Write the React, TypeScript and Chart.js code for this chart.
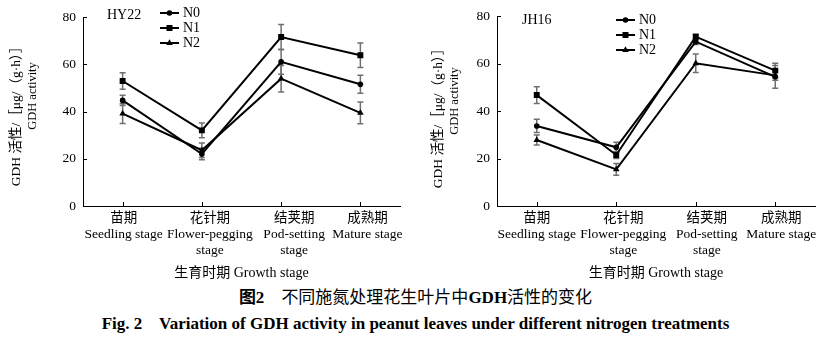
import React, { useEffect, useRef } from "react";
import { Chart, registerables } from "chart.js";

Chart.register(...registerables);

// ---- data ----
const categories: string[][] = [
  ["苗期", "Seedling stage"],
  ["花针期", "Flower-pegging", "stage"],
  ["结荚期", "Pod-setting", "stage"],
  ["成熟期", "Mature stage"],
];
const seriesNames = ["N0", "N1", "N2"];
const yTicks = [0, 20, 40, 60, 80];

const hy22N0 = [44.7, 22.0, 61.0, 51.5];
const hy22N1 = [52.9, 32.0, 71.5, 63.8];
const hy22N2 = [39.1, 23.6, 53.9, 39.4];
const hy22N0Err = [2.2, 2.4, 5.2, 3.8];
const hy22N1Err = [3.5, 3.1, 5.3, 5.2];
const hy22N2Err = [4.2, 3.1, 5.6, 4.6];

const jh16N0 = [33.7, 24.7, 69.2, 54.4];
const jh16N1 = [46.7, 21.5, 71.3, 57.0];
const jh16N2 = [27.8, 15.4, 60.1, 55.0];
const jh16N0Err = [2.8, 2.1, 1.2, 4.8];
const jh16N1Err = [3.5, 1.5, 1.0, 3.1];
const jh16N2Err = [2.1, 2.5, 3.9, 2.0];

const yTitle1 = "GDH 活性/［μg/（g·h）］";
const yTitle2 = "GDH activity";
const xTitle = "生育时期 Growth stage";

const FONT = "'Liberation Serif', 'Noto Sans CJK SC', serif";
const H = 285;

type PanelProps = {
  left: number;
  width: number;
  name: string;
  series: number[][];
  errors: number[][];
  yAxisWidth: number;
  padRight: number;
  padTop: number;
  areaBottom: number;
  nameDx: number;
  nameDy: number;
  legendDx: number;
  legendDy: number;
  yt1Dx: number;
  yt2Dx: number;
  yt1Cy: number;
  yt2Cy: number;
  labelShift: number[];
};

function Panel(p: PanelProps) {
  const ref = useRef<HTMLCanvasElement>(null);
  useEffect(() => {
    const styles = ["circle", "rect", "triangle"];
    const radii = [2.8, 4.2, 3.8];

    const errorBars = {
      id: "errorBars",
      beforeDatasetsDraw(chart: any) {
        const ctx = chart.ctx;
        const xs = chart.scales.x;
        const ys = chart.scales.y;
        ctx.save();
        ctx.strokeStyle = "#707070";
        ctx.lineWidth = 1.5;
        p.series.forEach((vals, i) => {
          vals.forEach((v, j) => {
            const e = p.errors[i][j];
            const px = xs.getPixelForValue(j);
            const t = ys.getPixelForValue(v + e);
            const b = ys.getPixelForValue(v - e);
            ctx.beginPath();
            ctx.moveTo(px, t);
            ctx.lineTo(px, b);
            ctx.moveTo(px - 3, t);
            ctx.lineTo(px + 3, t);
            ctx.moveTo(px - 3, b);
            ctx.lineTo(px + 3, b);
            ctx.stroke();
          });
        });
        ctx.restore();
      },
    };

    const decor = {
      id: "decor",
      afterDraw(chart: any) {
        const ctx = chart.ctx;
        const area = chart.chartArea;
        const xs = chart.scales.x;
        const ys = chart.scales.y;
        ctx.save();
        // inward ticks
        ctx.strokeStyle = "#000";
        ctx.lineWidth = 1;
        yTicks.forEach((v) => {
          const py = Math.round(ys.getPixelForValue(v)) + 0.5;
          ctx.beginPath();
          ctx.moveTo(area.left, py);
          ctx.lineTo(area.left + 4, py);
          ctx.stroke();
        });
        categories.forEach((_, i) => {
          const px = Math.round(xs.getPixelForValue(i)) + 0.5;
          ctx.beginPath();
          ctx.moveTo(px, area.bottom);
          ctx.lineTo(px, area.bottom - 4);
          ctx.stroke();
        });
        // category labels
        ctx.fillStyle = "#000";
        ctx.font = `13.5px ${FONT}`;
        ctx.textAlign = "center";
        ctx.textBaseline = "middle";
        categories.forEach((lines, i) => {
          const px = xs.getPixelForValue(i) + p.labelShift[i];
          lines.forEach((t, k) => {
            ctx.fillText(t, px, area.bottom + 12 + k * 16);
          });
        });
        // y axis titles
        ctx.font = `13.5px ${FONT}`;
        ctx.save();
        ctx.translate(area.left + p.yt1Dx, p.yt1Cy);
        ctx.rotate(-Math.PI / 2);
        ctx.fillText(yTitle1, 0, 0);
        ctx.restore();
        ctx.font = `12.5px ${FONT}`;
        ctx.save();
        ctx.translate(area.left + p.yt2Dx, p.yt2Cy);
        ctx.rotate(-Math.PI / 2);
        ctx.fillText(yTitle2, 0, 0);
        ctx.restore();
        // panel name
        ctx.font = `14px ${FONT}`;
        ctx.textAlign = "left";
        ctx.fillText(p.name, area.left + p.nameDx, area.top + p.nameDy);
        // legend
        chart.data.datasets.forEach((ds: any, i: number) => {
          const lx = area.left + p.legendDx;
          const ly = area.top + p.legendDy + i * 15;
          ctx.strokeStyle = "#000";
          ctx.lineWidth = 2;
          ctx.beginPath();
          ctx.moveTo(lx, ly);
          ctx.lineTo(lx + 19, ly);
          ctx.stroke();
          ctx.fillStyle = "#000";
          ctx.beginPath();
          const cx = lx + 9.5;
          if (styles[i] === "circle") {
            ctx.arc(cx, ly, 2.8, 0, Math.PI * 2);
          } else if (styles[i] === "rect") {
            ctx.rect(cx - 3, ly - 3, 6, 6);
          } else {
            ctx.moveTo(cx, ly - 3.8);
            ctx.lineTo(cx + 3.3, ly + 1.9);
            ctx.lineTo(cx - 3.3, ly + 1.9);
            ctx.closePath();
          }
          ctx.fill();
          ctx.font = `14px ${FONT}`;
          ctx.textAlign = "left";
          ctx.textBaseline = "middle";
          ctx.fillText(ds.label, lx + 23, ly);
        });
        ctx.restore();
      },
    };

    const chart = new Chart(ref.current as HTMLCanvasElement, {
      type: "line",
      data: {
        labels: categories as any,
        datasets: p.series.map((d, i) => ({
          label: seriesNames[i],
          data: d,
          borderColor: "#000",
          backgroundColor: "#000",
          borderWidth: 2,
          pointStyle: styles[i] as any,
          pointRadius: radii[i],
          pointBorderWidth: 0,
          pointBackgroundColor: "#000",
          tension: 0,
          fill: false,
        })),
      },
      options: {
        animation: false,
        responsive: false,
        maintainAspectRatio: false,
        events: [],
        layout: { padding: { left: 0, right: p.padRight, top: p.padTop, bottom: 0 } },
        plugins: { legend: { display: false }, tooltip: { enabled: false } },
        scales: {
          x: {
            type: "category",
            offset: true,
            grid: { display: false, drawTicks: false },
            border: { display: true, color: "#000", width: 1 },
            ticks: { display: false, autoSkip: false },
            title: {
              display: true,
              text: xTitle,
              color: "#000",
              font: { family: FONT, size: 14 },
              padding: { top: 0, bottom: 3 },
            },
            afterFit: (s: any) => {
              s.height = H - p.areaBottom;
            },
          },
          y: {
            min: 0,
            max: 80,
            grid: { display: false, drawTicks: false },
            border: { display: true, color: "#000", width: 1 },
            ticks: {
              color: "#000",
              font: { family: FONT, size: 13.5 },
              padding: 7,
            },
            afterBuildTicks: (s: any) => {
              s.ticks = yTicks.map((v) => ({ value: v }));
            },
            afterFit: (s: any) => {
              s.width = p.yAxisWidth;
            },
          },
        },
      } as any,
      plugins: [errorBars, decor],
    });
    return () => chart.destroy();
  }, []);
  return (
    <canvas
      ref={ref}
      width={p.width}
      height={H}
      style={{ position: "absolute", left: p.left, top: 0, width: p.width, height: H }}
    />
  );
}

export default function App() {
  return (
    <div
      style={{
        position: "absolute",
        left: 0,
        top: 0,
        width: 831,
        height: 340,
        background: "#fff",
        overflow: "hidden",
      }}
    >
      <Panel
        left={0}
        width={415}
        name="HY22"
        series={[hy22N0, hy22N1, hy22N2]}
        errors={[hy22N0Err, hy22N1Err, hy22N2Err]}
        yAxisWidth={83}
        padRight={15}
        padTop={17}
        areaBottom={206}
        nameDx={24}
        nameDy={-2}
        legendDx={77}
        legendDy={-4}
        yt1Dx={-67}
        yt2Dx={-50}
        yt1Cy={113}
        yt2Cy={96}
        labelShift={[1, 8, 13, 7]}
      />
      <Panel
        left={415}
        width={416}
        name="JH16"
        series={[jh16N0, jh16N1, jh16N2]}
        errors={[jh16N0Err, jh16N1Err, jh16N2Err]}
        yAxisWidth={82}
        padRight={16}
        padTop={16}
        areaBottom={206}
        nameDx={25}
        nameDy={4}
        legendDx={119}
        legendDy={4}
        yt1Dx={-59}
        yt2Dx={-42}
        yt1Cy={115}
        yt2Cy={101}
        labelShift={[0, 7, 11, 6]}
      />
      <div
        style={{
          position: "absolute",
          left: 0,
          width: 831,
          top: 288,
          textAlign: "center",
          fontFamily: FONT,
          fontSize: 17,
          lineHeight: "20px",
          color: "#000",
          whiteSpace: "pre",
        }}
      >
        <b>图2</b>{"    不同施氮处理花生叶片中"}<b>GDH</b>{"活性的变化"}
      </div>
      <div
        style={{
          position: "absolute",
          left: 0,
          width: 831,
          top: 314,
          textAlign: "center",
          fontFamily: FONT,
          fontSize: 17,
          fontWeight: "bold",
          lineHeight: "20px",
          color: "#000",
          whiteSpace: "pre",
        }}
      >
        {"Fig. 2    Variation of GDH activity in peanut leaves under different nitrogen treatments"}
      </div>
    </div>
  );
}
